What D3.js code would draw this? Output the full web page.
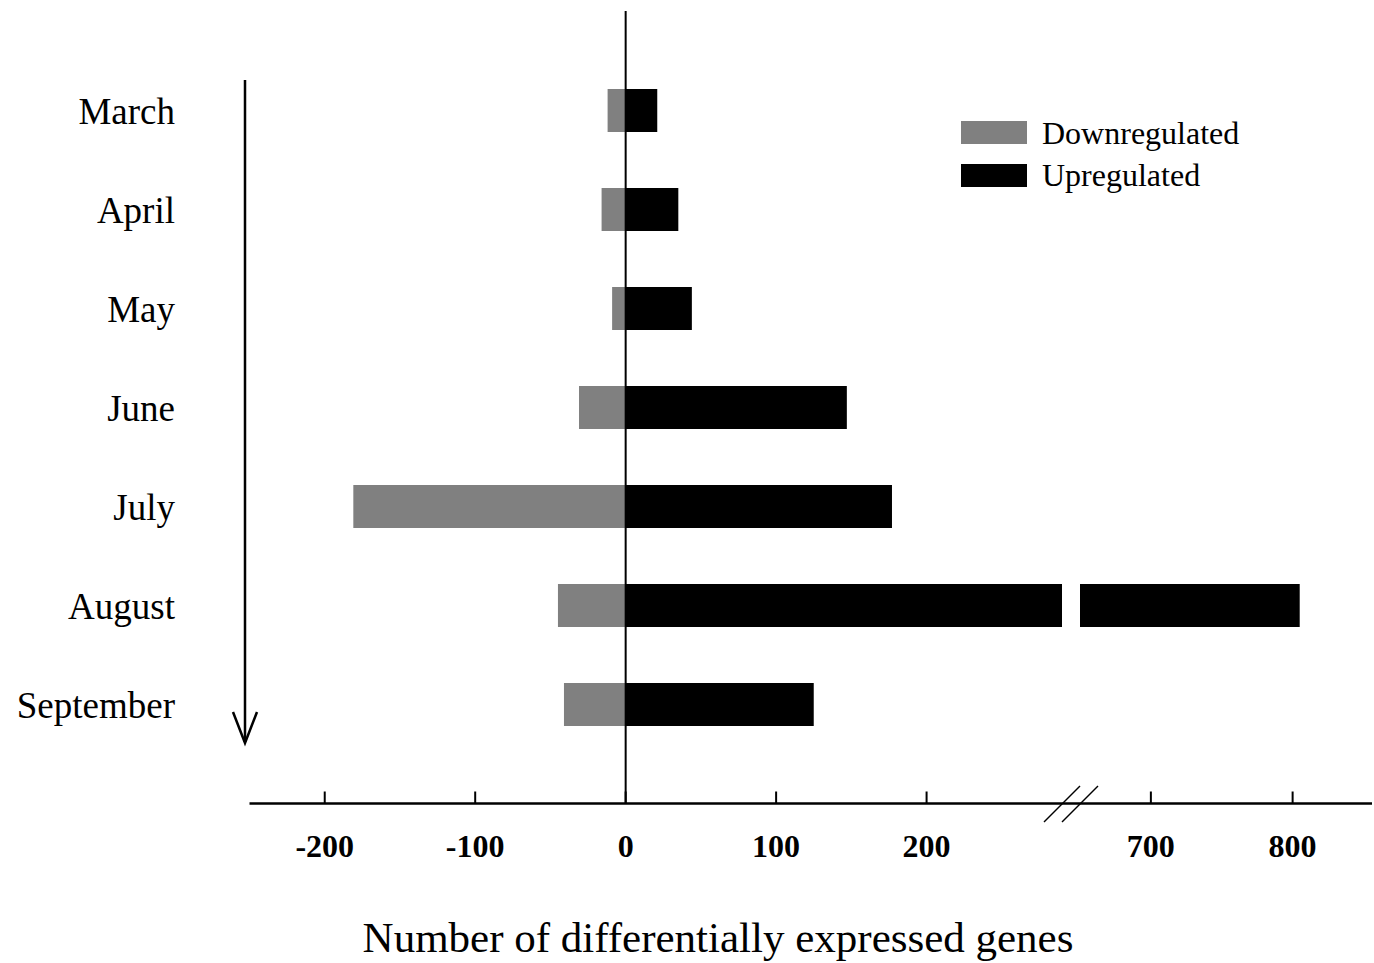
<!DOCTYPE html>
<html>
<head>
<meta charset="utf-8">
<script src="https://cdn.jsdelivr.net/npm/d3@7"></script>
<style>
  html, body { margin: 0; padding: 0; background: #fff; }
  svg { display: block; }
  text { font-family: "Liberation Serif", "Times New Roman", serif; fill: #000; }
</style>
</head>
<body>
<svg id="chart" width="1374" height="963"></svg>
<script>
// Monthly counts of differentially expressed genes
const months = ["March", "April", "May", "June", "July", "August", "September"];
const downregulated = [-12, -16, -9, -31, -181, -45, -41];
const upregulated = [21, 35, 44, 147, 177, 805, 125];

// Broken x axis: left segment and right segment
const leftTicks = [-200, -100, 0, 100, 200];
const rightTicks = [700, 800];
const leftDomain = [-250, 290];
const rightDomain = [650, 856];

const seriesNames = ["Downregulated", "Upregulated"];
const seriesColors = ["#808080", "#000000"];

const svg = d3.select("#chart");

const xLeft = d3.scaleLinear().domain(leftDomain).range([249.5, 1062]);
const xRight = d3.scaleLinear().domain(rightDomain).range([1080, 1372]);
const y = d3.scalePoint().domain(months).range([110.5, 704.5]);
const barH = 43;
const axisY = 803.5;

const rows = months.map((m, i) => ({ month: m, down: downregulated[i], up: upregulated[i] }));

// Downregulated bars (negative side)
svg.append("g").selectAll("rect")
  .data(rows)
  .join("rect")
  .attr("x", d => xLeft(d.down))
  .attr("y", d => y(d.month) - barH / 2)
  .attr("width", d => xLeft(0) - xLeft(d.down))
  .attr("height", barH)
  .attr("fill", seriesColors[0]);

// Upregulated bars, split across the axis break when needed
const upG = svg.append("g");
rows.forEach(d => {
  const leftEnd = Math.min(d.up, leftDomain[1]);
  upG.append("rect")
    .attr("x", xLeft(0))
    .attr("y", y(d.month) - barH / 2)
    .attr("width", xLeft(leftEnd) - xLeft(0))
    .attr("height", barH)
    .attr("fill", seriesColors[1]);
  if (d.up > leftDomain[1]) {
    upG.append("rect")
      .attr("x", xRight(rightDomain[0]))
      .attr("y", y(d.month) - barH / 2)
      .attr("width", xRight(d.up) - xRight(rightDomain[0]))
      .attr("height", barH)
      .attr("fill", seriesColors[1]);
  }
});

// Zero line
svg.append("line")
  .attr("x1", xLeft(0)).attr("x2", xLeft(0))
  .attr("y1", 11).attr("y2", axisY)
  .attr("stroke", "#000").attr("stroke-width", 2);

// X axis baseline
svg.append("line")
  .attr("x1", xLeft(leftDomain[0])).attr("x2", xRight(rightDomain[1]))
  .attr("y1", axisY).attr("y2", axisY)
  .attr("stroke", "#000").attr("stroke-width", 2.5);

// Tick marks and labels
const tickData = leftTicks.map(v => ({ v, x: xLeft(v) }))
  .concat(rightTicks.map(v => ({ v, x: xRight(v) })));

svg.append("g").selectAll("line")
  .data(tickData)
  .join("line")
  .attr("x1", d => d.x).attr("x2", d => d.x)
  .attr("y1", axisY).attr("y2", axisY - 12)
  .attr("stroke", "#000").attr("stroke-width", 2);

svg.append("g").selectAll("text")
  .data(tickData)
  .join("text")
  .attr("x", d => d.x)
  .attr("y", 857)
  .attr("text-anchor", "middle")
  .attr("font-size", 32)
  .attr("font-weight", "bold")
  .text(d => d.v);

// Axis break marks
const breakG = svg.append("g").attr("stroke", "#000").attr("stroke-width", 1.5);
[0, 18].forEach(dx => {
  breakG.append("line")
    .attr("x1", 1044 + dx).attr("y1", 822)
    .attr("x2", 1080 + dx).attr("y2", 786);
});

// Month labels
svg.append("g").selectAll("text")
  .data(months)
  .join("text")
  .attr("x", 175)
  .attr("y", d => y(d) + 13.5)
  .attr("text-anchor", "end")
  .attr("font-size", 37)
  .text(d => d);

// Time arrow
svg.append("line")
  .attr("x1", 245).attr("x2", 245)
  .attr("y1", 80).attr("y2", 742)
  .attr("stroke", "#000").attr("stroke-width", 2.5);
svg.append("path")
  .attr("d", "M233,712 L245,743 L257,712")
  .attr("fill", "none").attr("stroke", "#000").attr("stroke-width", 2.5);

// Legend
const legend = svg.append("g");
seriesNames.forEach((name, i) => {
  legend.append("rect")
    .attr("x", 961).attr("y", 121 + i * 43)
    .attr("width", 66).attr("height", 23)
    .attr("fill", seriesColors[i]);
  legend.append("text")
    .attr("x", 1042).attr("y", 144 + i * 42)
    .attr("font-size", 32)
    .text(name);
});

// Axis title
svg.append("text")
  .attr("x", 718).attr("y", 952)
  .attr("text-anchor", "middle")
  .attr("font-size", 43)
  .text("Number of differentially expressed genes");
</script>
</body>
</html>
